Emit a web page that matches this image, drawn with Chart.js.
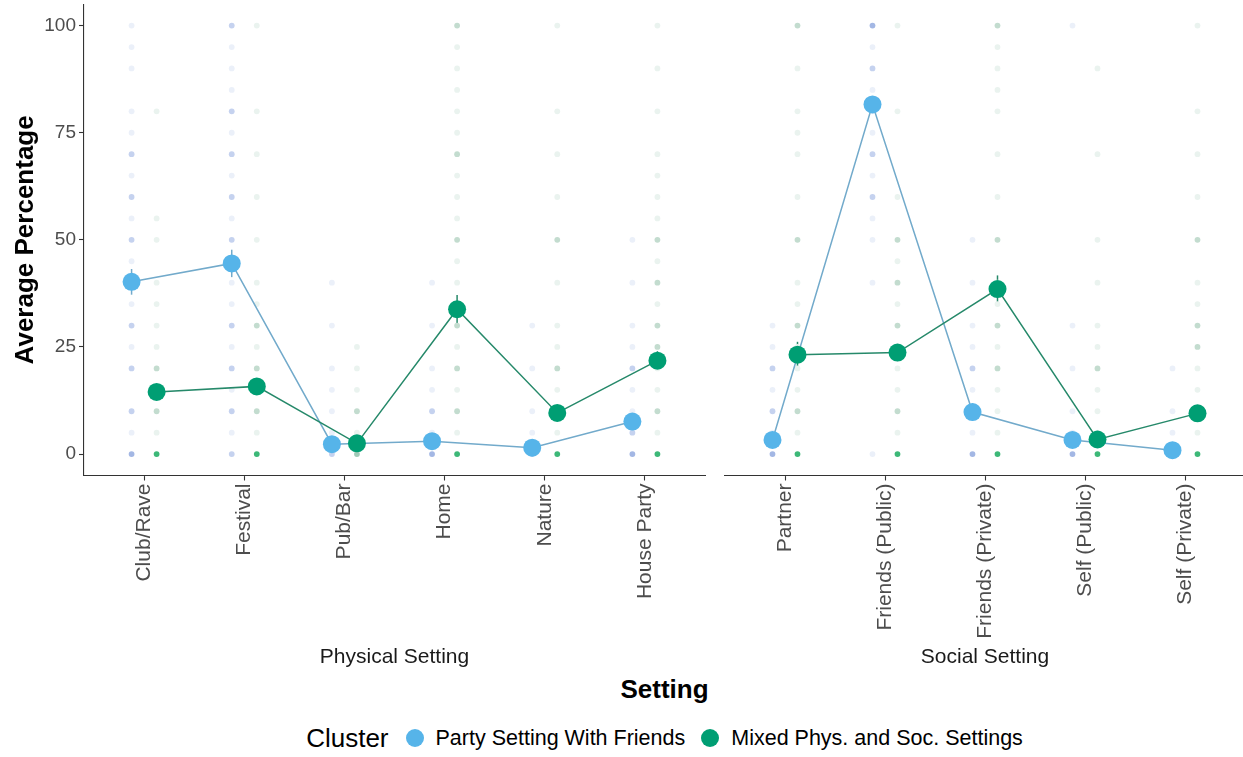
<!DOCTYPE html>
<html>
<head>
<meta charset="utf-8">
<script src="https://cdn.jsdelivr.net/npm/chart.js@4.4.1/dist/chart.umd.min.js"></script>
<style>
  html, body { margin: 0; padding: 0; overflow: hidden; background: #fff; }
  body { position: relative; width: 1243px; height: 757px; font-family: "Liberation Sans", Arial, sans-serif; }
  canvas { position: absolute; top: 0; }
  #physChart { left: 0; }
  #socChart { left: 715px; }
  .x-title { position: absolute; left: 84px; width: 1161px; top: 674px; text-align: center;
             font-weight: bold; font-size: 26px; color: #000; }
  .legend { position: absolute; left: 84px; width: 1161px; top: 722px; height: 32px;
            display: flex; justify-content: center; align-items: center; }
  .legend .title { font-size: 26px; color: #000; margin-right: 17px; }
  .legend .dot { width: 18px; height: 18px; border-radius: 50%; margin-right: 12px; }
  .legend .label { font-size: 21.5px; color: #000; margin-right: 16px; }
  .legend .label:last-child { margin-right: 0; }
</style>
</head>
<body>
<canvas id="physChart" width="715" height="670"></canvas>
<canvas id="socChart" width="530" height="670"></canvas>
<div class="x-title">Setting</div>
<div class="legend" id="legend"></div>

<script>
// categories of the two facets
const physCategories = ["Club/Rave", "Festival", "Pub/Bar", "Home", "Nature", "House Party"];
const socCategories = ["Partner", "Friends (Public)", "Friends (Private)", "Self (Public)", "Self (Private)"];

const clusterNames = ["Party Setting With Friends", "Mixed Phys. and Soc. Settings"];

// cluster means (%)
const partyPhys = [40.2, 44.5, 2.3, 3.0, 1.5, 7.6];
const mixedPhys = [14.5, 15.8, 2.5, 33.8, 9.6, 21.8];
const partySoc = [3.3, 81.6, 9.8, 3.3, 0.9];
const mixedSoc = [23.2, 23.7, 38.5, 3.4, 9.5];

// half width of the error bars
const partyPhysErr = [3.0, 3.2, 1.0, 1.2, 0.8, 1.8];
const mixedPhysErr = [1.8, 1.8, 1.0, 3.3, 1.5, 2.2];
const partySocErr = [1.2, 1.8, 2.0, 1.0, 0.6];
const mixedSocErr = [3.0, 2.0, 3.2, 1.0, 1.5];

// individual answers: one digit per level below (0 = none, 4 = many respondents)
const rawLevels = [0, 5, 10, 15, 20, 25, 30, 35, 40, 45, 50, 55, 60, 65, 70, 75, 80, 85, 90, 95, 100];
const partyPhysRaw = [
  "312021211121212110111",
  "212121211121212121112",
  "211110101000000000000",
  "312110101000000000000",
  "211010100000000000000",
  "321121101010000000000",
];
const mixedPhysRaw = [
  "412121111011000010000",
  "412121211010101010001",
  "312111000000000000000",
  "412121211121112111112",
  "411121101020101010001",
  "412112212121111010101",
];
const partySocRaw = [
  "312121100000000000000",
  "100000001011212111213",
  "311121101010000000000",
  "311010100000000000001",
  "311010000000000000000",
];
const mixedSocRaw = [
  "412111211020101110102",
  "412111212120100010001",
  "411121211020101011112",
  "411121101010001000100",
  "411112211020101010001",
];

const yTicks = [0, 25, 50, 75, 100];

const BLUE = "#56B4E9";
const GREEN = "#009E73";
const BLUE_LINE = "#72aacb";
const GREEN_LINE = "#26896a";
const blueShades = [null, "#ebf0f9", "#c5d2ef", "#a3b7e4", "#8db7e6"];
const greenShades = [null, "#eaf3ef", "#c3dccf", "#a0c9b7", "#3db878"];

const FONT = "'Liberation Sans', Arial, sans-serif";
Chart.defaults.font.family = FONT;

const DODGE = 0.125;
const AREA_BOTTOM = 475.5;
const CANVAS_H = 670;

function rawPoints(columns, shift, shades) {
  const pts = [];
  const colors = [];
  columns.forEach((col, i) => {
    rawLevels.forEach((lv, k) => {
      const d = +col[k];
      if (d > 0) {
        pts.push({ x: i + shift, y: lv });
        colors.push(shades[d]);
      }
    });
  });
  return { pts, colors };
}

function meanPoints(values, shift) {
  return values.map((v, i) => ({ x: i + shift, y: v }));
}

// vertical error bars, drawn under the lines and points
const errorBars = {
  id: "errorBars",
  beforeDatasetsDraw(chart, args, opts) {
    const { ctx, scales: { x, y } } = chart;
    ctx.save();
    ctx.lineWidth = 1.5;
    opts.series.forEach((s) => {
      ctx.strokeStyle = s.color;
      s.values.forEach((v, i) => {
        const px = x.getPixelForValue(i + s.shift);
        ctx.beginPath();
        ctx.moveTo(px, y.getPixelForValue(v - s.err[i]));
        ctx.lineTo(px, y.getPixelForValue(v + s.err[i]));
        ctx.stroke();
      });
    });
    ctx.restore();
  },
};

function makePanel(canvasId, cats, party, mixed, partyErr, mixedErr, partyRaw, mixedRaw, strip, showY) {
  const rawParty = rawPoints(partyRaw, -DODGE, blueShades);
  const rawMixed = rawPoints(mixedRaw, DODGE, greenShades);

  return new Chart(document.getElementById(canvasId), {
    type: "scatter",
    data: {
      datasets: [
        { data: meanPoints(mixed, DODGE), backgroundColor: GREEN, pointRadius: 9, borderWidth: 0, order: 0 },
        { data: meanPoints(party, -DODGE), backgroundColor: BLUE, pointRadius: 9, borderWidth: 0, order: 1 },
        { data: meanPoints(mixed, DODGE), showLine: true, borderColor: GREEN_LINE, borderWidth: 1.5, pointRadius: 0, order: 2 },
        { data: meanPoints(party, -DODGE), showLine: true, borderColor: BLUE_LINE, borderWidth: 1.5, pointRadius: 0, order: 3 },
        { data: rawMixed.pts, backgroundColor: rawMixed.colors, pointRadius: 2.9, borderWidth: 0, order: 4 },
        { data: rawParty.pts, backgroundColor: rawParty.colors, pointRadius: 2.9, borderWidth: 0, order: 5 },
      ],
    },
    options: {
      responsive: false,
      animation: false,
      events: [],
      layout: {
        autoPadding: false,
        padding: { top: 4.2, bottom: 0, left: showY ? 0 : 10, right: showY ? 10 : 0 },
      },
      plugins: {
        legend: { display: false },
        tooltip: { enabled: false },
        errorBars: {
          series: [
            { values: party, err: partyErr, shift: -DODGE, color: BLUE_LINE },
            { values: mixed, err: mixedErr, shift: DODGE, color: GREEN_LINE },
          ],
        },
      },
      scales: {
        x: {
          type: "linear",
          min: -0.6,
          max: cats.length - 0.4,
          afterBuildTicks: (s) => { s.ticks = cats.map((c, i) => ({ value: i })); },
          afterFit: (s) => {
            s.height = CANVAS_H - AREA_BOTTOM;
            s.paddingLeft = 0;
            s.paddingRight = 0;
          },
          ticks: {
            autoSkip: false,
            minRotation: 90,
            maxRotation: 90,
            padding: 3,
            color: "#4d4d4d",
            font: { size: 21 },
            callback: (v) => cats[v],
          },
          grid: { drawOnChartArea: false, tickLength: 5, tickColor: "#333", tickWidth: 1.1 },
          border: { display: true, color: "#333", width: 1.1 },
          title: {
            display: true,
            text: strip,
            color: "#1a1a1a",
            font: { size: 21 },
            padding: { top: 0, bottom: 0 },
          },
        },
        y: {
          display: showY,
          min: -5,
          max: 105,
          afterBuildTicks: (s) => { s.ticks = yTicks.map((v) => ({ value: v })); },
          afterFit: (s) => {
            s.width = showY ? 84 : 0;
            s.paddingTop = 0;
            s.paddingBottom = 0;
          },
          ticks: { color: "#4d4d4d", font: { size: 19 }, padding: 3 },
          grid: { drawOnChartArea: false, tickLength: 5, tickColor: "#333", tickWidth: 1.1 },
          border: { display: true, color: "#333", width: 1.1 },
          title: {
            display: true,
            text: "Average Percentage",
            color: "#000",
            font: { size: 26, weight: "bold" },
            padding: { top: 10, bottom: 0 },
          },
        },
      },
    },
    plugins: [errorBars],
  });
}

makePanel("physChart", physCategories, partyPhys, mixedPhys, partyPhysErr, mixedPhysErr,
  partyPhysRaw, mixedPhysRaw, "Physical Setting", true);
makePanel("socChart", socCategories, partySoc, mixedSoc, partySocErr, mixedSocErr,
  partySocRaw, mixedSocRaw, "Social Setting", false);

// legend row
const legend = document.getElementById("legend");
legend.innerHTML = '<span class="title">Cluster</span>' +
  [BLUE, GREEN].map((c, i) =>
    `<span class="dot" style="background:${c}"></span><span class="label">${clusterNames[i]}</span>`
  ).join("");
</script>
</body>
</html>
